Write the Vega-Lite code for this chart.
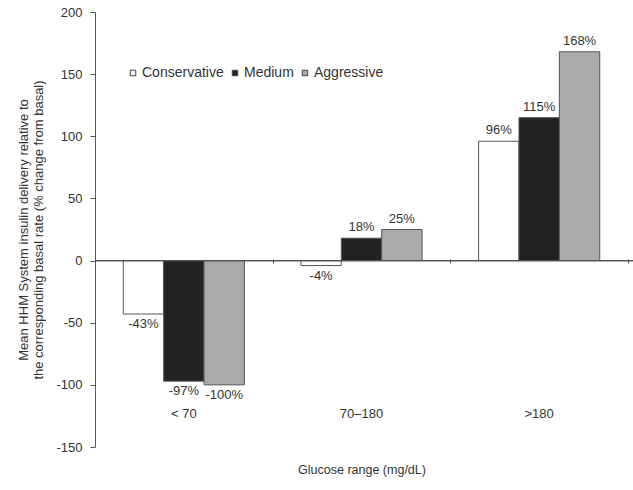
{
  "$schema": "https://vega.github.io/schema/vega-lite/v6.json",
  "width": 533,
  "height": 435,
  "autosize": "none",
  "padding": {"left": 95, "top": 12, "right": 5, "bottom": 43},
  "background": "white",
  "config": {
    "view": {"stroke": null},
    "font": "Liberation Sans",
    "axis": {"labelFont": "Liberation Sans", "titleFont": "Liberation Sans", "labelColor": "#333", "titleColor": "#333", "titleFontWeight": "normal"},
    "legend": {"labelFont": "Liberation Sans"}
  },
  "data": {
    "values": [
      {"range": "< 70", "series": "Conservative", "value": -43, "label": "-43%"},
      {"range": "< 70", "series": "Medium", "value": -97, "label": "-97%"},
      {"range": "< 70", "series": "Aggressive", "value": -100, "label": "-100%"},
      {"range": "70–180", "series": "Conservative", "value": -4, "label": "-4%"},
      {"range": "70–180", "series": "Medium", "value": 18, "label": "18%"},
      {"range": "70–180", "series": "Aggressive", "value": 25, "label": "25%"},
      {"range": ">180", "series": "Conservative", "value": 96, "label": "96%"},
      {"range": ">180", "series": "Medium", "value": 115, "label": "115%"},
      {"range": ">180", "series": "Aggressive", "value": 168, "label": "168%"}
    ]
  },
  "encoding": {
    "xOffset": {
      "field": "series", "type": "nominal", "sort": ["Conservative", "Medium", "Aggressive"],
      "scale": {"paddingInner": 0, "paddingOuter": 0.7}
    },
    "y": {
      "field": "value", "type": "quantitative",
      "scale": {"domain": [-150, 200], "nice": false},
      "axis": {"values": [-150, -100, -50, 0, 50, 100, 150, 200], "labelExpr": "toString(datum.value)", "grid": false, "domainColor": "#555", "tickColor": "#555", "tickSize": 5, "labelFontSize": 13, "labelPadding": 8, "titleFontSize": 13, "titlePadding": 10,
        "title": ["Mean HHM System insulin delivery relative to", "the corresponding basal rate (% change from basal)"]}
    }
  },
  "resolve": {"axis": {"x": "independent"}},
  "layer": [
    {
      "mark": {"type": "bar", "stroke": "#555", "strokeWidth": 1},
      "encoding": {
        "x": {
          "field": "range", "type": "nominal", "sort": ["< 70", "70–180", ">180"],
          "scale": {"paddingInner": 0, "paddingOuter": 0},
          "axis": {"labelAngle": 0, "domain": false, "ticks": false, "labelPadding": -40, "labelFontSize": 13, "title": "Glucose range (mg/dL)", "titleFontSize": 12.5, "titleY": 16}
        },
        "color": {
          "field": "series", "type": "nominal", "sort": ["Conservative", "Medium", "Aggressive"],
          "scale": {"domain": ["Conservative", "Medium", "Aggressive"], "range": ["#ffffff", "#222222", "#aaaaaa"]},
          "legend": {"title": null, "orient": "none", "legendX": 31, "legendY": 54, "direction": "horizontal", "symbolType": "square", "symbolSize": 30, "symbolStrokeColor": "#444", "symbolStrokeWidth": 1, "labelFontSize": 14, "labelColor": "#333", "columnPadding": 4, "labelOffset": 2}
        }
      }
    },
    {
      "transform": [{"filter": "datum.value >= 0"}],
      "mark": {"type": "text", "baseline": "bottom", "dy": -4, "fontSize": 13, "color": "#333"},
      "encoding": {
        "x": {
          "field": "range", "type": "nominal", "sort": ["< 70", "70–180", ">180"],
          "axis": {"orient": "bottom", "offset": -188, "labels": false, "domain": false, "ticks": true, "tickBand": "extent", "tickSize": 4, "tickColor": "#555", "title": null}
        },
        "text": {"field": "label"}
      }
    },
    {
      "transform": [{"filter": "datum.value < 0"}],
      "mark": {"type": "text", "baseline": "top", "dy": 4, "fontSize": 13, "color": "#333"},
      "encoding": {
        "x": {"field": "range", "type": "nominal", "sort": ["< 70", "70–180", ">180"], "axis": null},
        "text": {"field": "label"}
      }
    },
    {
      "mark": {"type": "rule", "color": "#555", "strokeWidth": 1},
      "encoding": {"y": {"datum": 0}}
    }
  ]
}
